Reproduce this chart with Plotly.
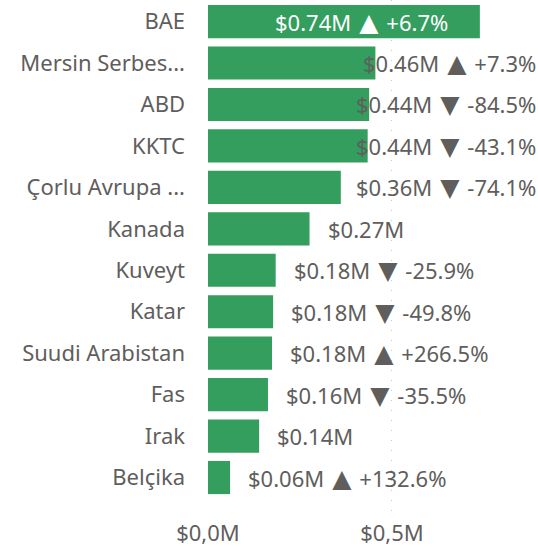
import plotly.graph_objects as go

categories = ["BAE", "Mersin Serbes...", "ABD", "KKTC", "Çorlu Avrupa ...", "Kanada",
              "Kuveyt", "Katar", "Suudi Arabistan", "Fas", "Irak", "Belçika"]
values = [0.739, 0.455, 0.438, 0.434, 0.361, 0.276, 0.184, 0.177, 0.174, 0.163, 0.139, 0.060]
value_labels = ["$0.74M", "$0.46M", "$0.44M", "$0.44M", "$0.36M", "$0.27M",
                "$0.18M", "$0.18M", "$0.18M", "$0.16M", "$0.14M", "$0.06M"]
arrows = ["▲", "▲", "▼", "▼", "▼", "", "▼", "▼", "▲", "▼", "", "▲"]
changes = ["+6.7%", "+7.3%", "-84.5%", "-43.1%", "-74.1%", "",
           "-25.9%", "-49.8%", "+266.5%", "-35.5%", "", "+132.6%"]
tick_vals = [0, 0.5]
tick_text = ["$0,0M", "$0,5M"]

GREEN = "#339E5E"
GREY = "#605E5C"
FONT = "Segoe UI, Noto Sans, sans-serif"
FS = 22
XMAX = 0.897
PX_PER_UNIT = 368.0

fig = go.Figure(go.Bar(
    x=values, y=categories, orientation="h",
    marker=dict(color=GREEN, line=dict(width=0)),
    width=0.8, hoverinfo="skip",
))

annotations = []
for i, (cat, v, vl, ar, ch) in enumerate(zip(categories, values, value_labels, arrows, changes)):
    if ar:
        text = (vl + "<span style='font-family:DejaVu Sans;font-size:25px'> " + ar
                + " </span>" + ch)
        plain = vl + " " + ar + " " + ch
    else:
        text = vl
        plain = vl
    est_w = len(plain) * 13.2 / PX_PER_UNIT
    if i == 0:
        annotations.append(dict(x=v, y=cat, xref="x", yref="y", text=text, showarrow=False,
                                xanchor="right", xshift=-30,
                                font=dict(color="white", size=FS, family=FONT)))
    elif v + 18 / PX_PER_UNIT + est_w > XMAX:
        annotations.append(dict(x=XMAX, y=cat, xref="x", yref="y", text=text, showarrow=False,
                                xanchor="right", xshift=0,
                                font=dict(color=GREY, size=FS, family=FONT)))
    else:
        annotations.append(dict(x=v, y=cat, xref="x", yref="y", text=text, showarrow=False,
                                xanchor="left", xshift=16,
                                font=dict(color=GREY, size=FS, family=FONT)))

fig.update_layout(
    width=538, height=547,
    margin=dict(l=208, r=0, t=0, b=33),
    paper_bgcolor="white", plot_bgcolor="white",
    showlegend=False,
    annotations=annotations,
    xaxis=dict(range=[0, XMAX], tickvals=tick_vals, ticktext=tick_text, automargin=False,
               showgrid=True, gridcolor="#C8C8C8", griddash="1px,9px", gridwidth=1,
               zeroline=False, showline=False, ticks="", ticklabelstandoff=4,
               tickfont=dict(color=GREY, size=FS, family=FONT)),
    yaxis=dict(range=[11.88, -0.52], showgrid=False, zeroline=False, showline=False,
               ticks="", ticklabelstandoff=22, automargin=False,
               tickfont=dict(color=GREY, size=FS, family=FONT)),
)

fig.write_html("out.html", config={"displayModeBar": False},
               post_script="document.body.style.margin='0';")
